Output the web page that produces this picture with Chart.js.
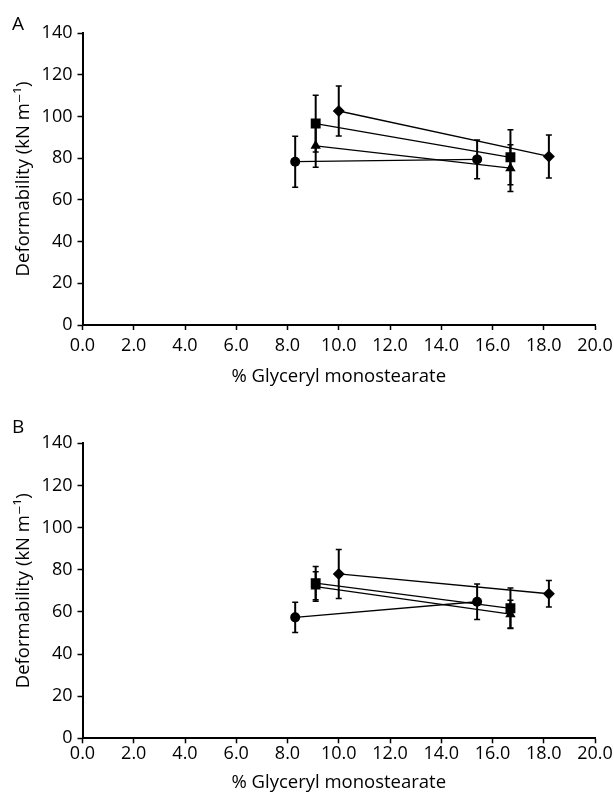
<!DOCTYPE html>
<html>
<head>
<meta charset="utf-8">
<script src="https://cdn.jsdelivr.net/npm/chart.js@4/dist/chart.umd.min.js"></script>
<style>
  html, body { margin: 0; padding: 0; background: #fff; overflow: hidden; }
  .panel { position: absolute; left: 0; width: 614px; }
  #panelA { top: 0; height: 396px; }
  #panelB { top: 396px; height: 398px; }
</style>
</head>
<body>
<div class="panel" id="panelA"><canvas id="chartA"></canvas></div>
<div class="panel" id="panelB"><canvas id="chartB"></canvas></div>
<script>
// % glyceryl monostearate for each formulation
var xCircle = [8.3, 15.4];
var xSquare = [9.1, 16.7];
var xTriangle = [9.1, 16.7];
var xDiamond = [10.0, 18.2];

// panel A deformability + error (kN m-1)
var circleA = [78.3, 79.4];
var circleErrA = [12.2, 9.3];
var squareA = [96.6, 80.4];
var squareErrA = [13.6, 13.2];
var triangleA = [85.9, 75.2];
var triangleErrA = [10.3, 11.2];
var diamondA = [102.6, 80.8];
var diamondErrA = [12.0, 10.3];

// panel B
var circleB = [57.4, 64.8];
var circleErrB = [7.2, 8.4];
var squareB = [73.6, 61.7];
var squareErrB = [7.9, 9.6];
var triangleB = [72.0, 58.9];
var triangleErrB = [7.0, 6.6];
var diamondB = [78.0, 68.6];
var diamondErrB = [11.6, 6.3];

var xTicks = [0, 2, 4, 6, 8, 10, 12, 14, 16, 18, 20];
var yTicks = [0, 20, 40, 60, 80, 100, 120, 140];

var FONT = "'Open Sans', 'DejaVu Sans', sans-serif";

function pts(xs, ys) {
    var out = [];
    for (var i = 0; i < xs.length; i++) {
        out.push({x: xs[i], y: ys[i]});
    }
    return out;
}

function serie(xs, ys, errs, style, r) {
    return {
        data: pts(xs, ys),
        errs: errs,
        showLine: true,
        borderColor: '#000',
        borderWidth: 1.3,
        backgroundColor: '#000',
        pointStyle: style,
        pointRadius: r,
        pointHoverRadius: r,
        pointBorderWidth: 0
    };
}

// error bars, drawn under the markers
var errorBars = {
    id: 'errorBars',
    beforeDatasetsDraw: function(chart) {
        var ctx = chart.ctx;
        var sx = chart.scales.x, sy = chart.scales.y;
        ctx.save();
        ctx.strokeStyle = '#000';
        chart.data.datasets.forEach(function(ds) {
            ds.data.forEach(function(p, i) {
                var e = ds.errs[i];
                var x = sx.getPixelForValue(p.x);
                var y1 = sy.getPixelForValue(p.y + e);
                var y2 = sy.getPixelForValue(p.y - e);
                ctx.lineWidth = 2;
                ctx.beginPath();
                ctx.moveTo(x, y1);
                ctx.lineTo(x, y2);
                ctx.stroke();
                ctx.lineWidth = 1.5;
                ctx.beginPath();
                ctx.moveTo(x - 3, y1);
                ctx.lineTo(x + 3, y1);
                ctx.moveTo(x - 3, y2);
                ctx.lineTo(x + 3, y2);
                ctx.stroke();
            });
        });
        ctx.restore();
    }
};

var panelLetter = {
    id: 'panelLetter',
    afterDraw: function(chart, args, opts) {
        var ctx = chart.ctx;
        ctx.save();
        ctx.fillStyle = '#000';
        ctx.font = '19px ' + FONT;
        ctx.textBaseline = 'alphabetic';
        ctx.fillText(opts.text, 12, opts.y);
        ctx.restore();
    }
};

function makeChart(id, letter, letterY, sets, padTop, xHeight, labelPad, titlePad) {
    return new Chart(document.getElementById(id), {
        type: 'scatter',
        data: {datasets: sets},
        plugins: [errorBars, panelLetter],
        options: {
            responsive: true,
            maintainAspectRatio: false,
            animation: false,
            layout: {padding: {top: padTop, right: 19, bottom: 0, left: 0}},
            plugins: {
                legend: {display: false},
                tooltip: {enabled: false},
                panelLetter: {text: letter, y: letterY}
            },
            scales: {
                x: {
                    type: 'linear',
                    min: 0,
                    max: 20,
                    afterFit: function(scale) {
                        scale.height = xHeight;
                        scale.paddingLeft = 0;
                        scale.paddingRight = 0;
                    },
                    afterBuildTicks: function(scale) {
                        scale.ticks = xTicks.map(function(v) { return {value: v}; });
                    },
                    ticks: {
                        color: '#000',
                        padding: labelPad,
                        maxRotation: 0,
                        font: {family: FONT, size: 18},
                        callback: function(v) { return Number(v).toFixed(1); }
                    },
                    grid: {drawOnChartArea: false, drawTicks: true, tickLength: 5, tickColor: '#000', tickWidth: 1.5},
                    border: {display: true, color: '#000', width: 2},
                    title: {
                        display: true,
                        text: '% Glyceryl monostearate',
                        color: '#000',
                        font: {family: FONT, size: 18.5},
                        padding: {top: 0, bottom: titlePad}
                    }
                },
                y: {
                    type: 'linear',
                    min: 0,
                    max: 140,
                    afterFit: function(scale) {
                        scale.width = 82.5;
                        scale.paddingTop = 0;
                        scale.paddingBottom = 0;
                    },
                    afterBuildTicks: function(scale) {
                        scale.ticks = yTicks.map(function(v) { return {value: v}; });
                    },
                    ticks: {
                        color: '#000',
                        padding: 5,
                        font: {family: FONT, size: 18}
                    },
                    grid: {drawOnChartArea: false, drawTicks: true, tickLength: 5, tickColor: '#000', tickWidth: 1.5},
                    border: {display: true, color: '#000', width: 2},
                    title: {
                        display: true,
                        text: 'Deformability (kN m\u207B\u00B9)',
                        color: '#000',
                        font: {family: FONT, size: 18.5},
                        padding: {top: 13, bottom: 0}
                    }
                }
            }
        }
    });
}

makeChart('chartA', 'A', 30, [
    serie(xSquare, squareA, squareErrA, 'rect', 7),
    serie(xTriangle, triangleA, triangleErrA, 'triangle', 6),
    serie(xDiamond, diamondA, diamondErrA, 'rectRot', 6),
    serie(xCircle, circleA, circleErrA, 'circle', 5)
], 33, 71, 5, 8);

makeChart('chartB', 'B', 37, [
    serie(xSquare, squareB, squareErrB, 'rect', 7),
    serie(xTriangle, triangleB, triangleErrB, 'triangle', 6),
    serie(xDiamond, diamondB, diamondErrB, 'rectRot', 6),
    serie(xCircle, circleB, circleErrB, 'circle', 5)
], 47.3, 55.7, 0, 0);
</script>
</body>
</html>
